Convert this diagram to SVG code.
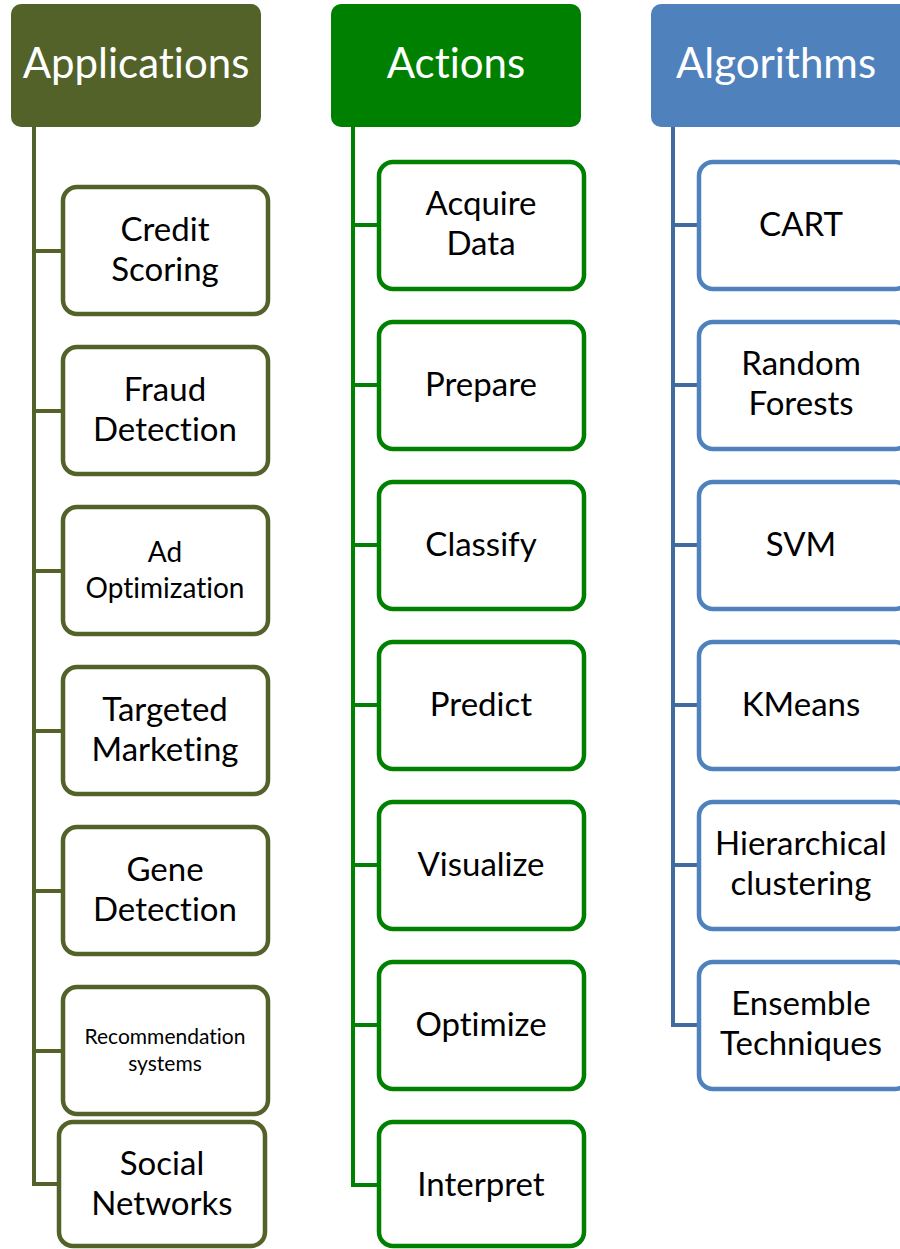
<svg xmlns="http://www.w3.org/2000/svg" width="900" height="1249" viewBox="0 0 900 1249">
  <style>
    .hdr-text { font-family: Lato, "Open Sans", sans-serif; font-size: 42px; fill: #ffffff; text-anchor: middle; font-variant-ligatures: none; }
    .txt { font-family: Lato, "Open Sans", sans-serif; font-size: 33px; fill: #000000; text-anchor: middle; font-variant-ligatures: none; }
    .txt-m { font-size: 28px; }
    .txt-s { font-size: 21px; }
    .node { fill: #ffffff; stroke-width: 4.5; }
    .app .node { stroke: #526229; }
    .act .node { stroke: #008000; }
    .alg .node { stroke: #4f81bd; }
    .wire { fill: none; stroke-width: 4; stroke-linejoin: miter; }
    .wire-app { stroke: #526229; }
    .wire-act { stroke: #008000; }
    .wire-alg { stroke: #416b9e; }
  </style>

  <!-- connectors: one trunk per column with a branch into every node -->
  <g id="connectors">
    <path class="wire wire-app" d="M34,127 V1184 H61 M34,251 H63 M34,411 H63 M34,571 H63 M34,731 H63 M34,891 H63 M34,1051 H63"/>
    <path class="wire wire-act" d="M353,127 V1185 H379 M353,225 H379 M353,385 H379 M353,545 H379 M353,705 H379 M353,865 H379 M353,1025 H379"/>
    <path class="wire wire-alg" d="M673,127 V1025 H699 M673,225 H699 M673,385 H699 M673,545 H699 M673,705 H699 M673,865 H699"/>
  </g>

  <!-- column headers -->
  <g id="hdr-applications">
    <rect x="11" y="4" width="250" height="123" rx="10" fill="#526229"/>
    <text class="hdr-text" x="136" y="78">Applications</text>
  </g>
  <g id="hdr-actions">
    <rect x="331" y="4" width="250" height="123" rx="10" fill="#008000"/>
    <text class="hdr-text" x="456" y="78">Actions</text>
  </g>
  <g id="hdr-algorithms">
    <rect x="651" y="4" width="262" height="123" rx="10" fill="#4f81bd"/>
    <text class="hdr-text" x="776" y="78">Algorithms</text>
  </g>

  <!-- Applications -->
  <g class="app">
    <g id="app-credit">
      <rect class="node" x="63" y="187" width="205" height="127" rx="14"/>
      <text class="txt" x="165" y="241">Credit</text>
      <text class="txt" x="165" y="281">Scoring</text>
    </g>
    <g id="app-fraud">
      <rect class="node" x="63" y="347" width="205" height="127" rx="14"/>
      <text class="txt" x="165" y="401">Fraud</text>
      <text class="txt" x="165" y="441">Detection</text>
    </g>
    <g id="app-ad">
      <rect class="node" x="63" y="507" width="205" height="127" rx="14"/>
      <text class="txt txt-m" x="165" y="562">Ad</text>
      <text class="txt txt-m" x="165" y="598">Optimization</text>
    </g>
    <g id="app-targeted">
      <rect class="node" x="63" y="667" width="205" height="127" rx="14"/>
      <text class="txt" x="165" y="721">Targeted</text>
      <text class="txt" x="165" y="761">Marketing</text>
    </g>
    <g id="app-gene">
      <rect class="node" x="63" y="827" width="205" height="127" rx="14"/>
      <text class="txt" x="165" y="881">Gene</text>
      <text class="txt" x="165" y="921">Detection</text>
    </g>
    <g id="app-recommendation">
      <rect class="node" x="63" y="987" width="205" height="127" rx="14"/>
      <text class="txt txt-s" x="165" y="1044">Recommendation</text>
      <text class="txt txt-s" x="165" y="1071">systems</text>
    </g>
    <g id="app-social">
      <rect class="node" x="59" y="1122" width="206" height="124" rx="14"/>
      <text class="txt" x="162" y="1175">Social</text>
      <text class="txt" x="162" y="1215">Networks</text>
    </g>
  </g>

  <!-- Actions -->
  <g class="act">
    <g id="act-acquire">
      <rect class="node" x="379" y="162" width="205" height="127" rx="14"/>
      <text class="txt" x="481" y="215">Acquire</text>
      <text class="txt" x="481" y="255">Data</text>
    </g>
    <g id="act-prepare">
      <rect class="node" x="379" y="322" width="205" height="127" rx="14"/>
      <text class="txt" x="481" y="396">Prepare</text>
    </g>
    <g id="act-classify">
      <rect class="node" x="379" y="482" width="205" height="127" rx="14"/>
      <text class="txt" x="481" y="556">Classify</text>
    </g>
    <g id="act-predict">
      <rect class="node" x="379" y="642" width="205" height="127" rx="14"/>
      <text class="txt" x="481" y="716">Predict</text>
    </g>
    <g id="act-visualize">
      <rect class="node" x="379" y="802" width="205" height="127" rx="14"/>
      <text class="txt" x="481" y="876">Visualize</text>
    </g>
    <g id="act-optimize">
      <rect class="node" x="379" y="962" width="205" height="127" rx="14"/>
      <text class="txt" x="481" y="1036">Optimize</text>
    </g>
    <g id="act-interpret">
      <rect class="node" x="379" y="1122" width="205" height="124" rx="14"/>
      <text class="txt" x="481" y="1196">Interpret</text>
    </g>
  </g>

  <!-- Algorithms -->
  <g class="alg">
    <g id="alg-cart">
      <rect class="node" x="699" y="162" width="210" height="127" rx="14"/>
      <text class="txt" x="801" y="236">CART</text>
    </g>
    <g id="alg-rf">
      <rect class="node" x="699" y="322" width="210" height="127" rx="14"/>
      <text class="txt" x="801" y="375">Random</text>
      <text class="txt" x="801" y="415">Forests</text>
    </g>
    <g id="alg-svm">
      <rect class="node" x="699" y="482" width="210" height="127" rx="14"/>
      <text class="txt" x="801" y="556">SVM</text>
    </g>
    <g id="alg-kmeans">
      <rect class="node" x="699" y="642" width="210" height="127" rx="14"/>
      <text class="txt" x="801" y="716">KMeans</text>
    </g>
    <g id="alg-hier">
      <rect class="node" x="699" y="802" width="210" height="127" rx="14"/>
      <text class="txt" x="801" y="855">Hierarchical</text>
      <text class="txt" x="801" y="895">clustering</text>
    </g>
    <g id="alg-ensemble">
      <rect class="node" x="699" y="962" width="210" height="127" rx="14"/>
      <text class="txt" x="801" y="1015">Ensemble</text>
      <text class="txt" x="801" y="1055">Techniques</text>
    </g>
  </g>
</svg>
